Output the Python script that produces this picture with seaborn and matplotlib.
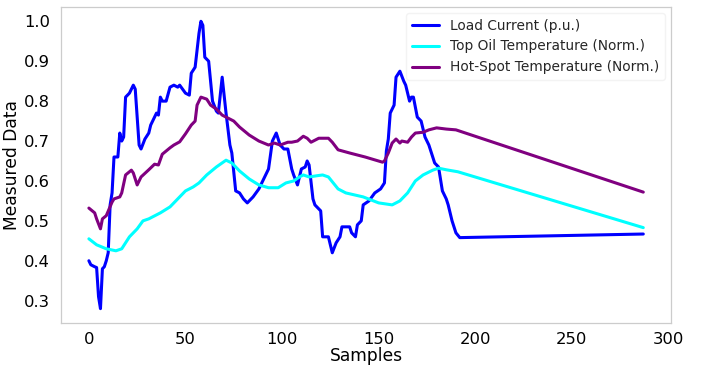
import matplotlib
matplotlib.use("Agg")
import matplotlib.pyplot as plt
import seaborn as sns
import pandas as pd

# ---- data ----
load_x = [0, 1, 3, 4, 5, 6, 7, 8, 9, 10, 11, 12, 13, 15, 16, 17, 18, 19, 21, 23, 24, 26, 27, 29, 31,
          32, 35, 36, 37, 38, 40, 42, 44, 46, 47, 50, 52, 53, 55, 57, 58, 59, 60, 62, 64, 66, 67, 69,
          71, 73, 74, 76, 78, 80, 82, 85, 88, 91, 93, 95, 97, 99, 101, 103, 105, 106, 108, 110, 112,
          113, 114, 116, 117, 120, 121, 124, 125, 126, 128, 130, 131, 135, 136, 138, 139, 141, 142,
          145, 148, 151, 153, 154, 155, 156, 158, 159, 161, 163, 164, 166, 167, 168, 170, 172, 174,
          176, 178, 179, 181, 183, 185, 186, 188, 190, 192, 287]
load_y = [0.40, 0.39, 0.385, 0.383, 0.31, 0.28, 0.38, 0.385, 0.40, 0.42, 0.54, 0.57, 0.66, 0.66,
          0.72, 0.70, 0.71, 0.81, 0.82, 0.84, 0.83, 0.69, 0.68, 0.705, 0.72, 0.74, 0.77, 0.765, 0.81,
          0.80, 0.80, 0.835, 0.84, 0.835, 0.84, 0.82, 0.815, 0.87, 0.885, 0.97, 1.0, 0.99, 0.91, 0.90,
          0.80, 0.775, 0.77, 0.86, 0.77, 0.69, 0.67, 0.575, 0.57, 0.555, 0.545, 0.56, 0.58, 0.61,
          0.63, 0.70, 0.72, 0.69, 0.68, 0.68, 0.63, 0.615, 0.59, 0.63, 0.635, 0.65, 0.64, 0.555,
          0.54, 0.525, 0.46, 0.46, 0.44, 0.42, 0.445, 0.46, 0.485, 0.485, 0.47, 0.46, 0.49, 0.50,
          0.54, 0.55, 0.57, 0.58, 0.595, 0.675, 0.705, 0.77, 0.79, 0.86, 0.875, 0.85, 0.84, 0.80,
          0.81, 0.81, 0.76, 0.75, 0.71, 0.69, 0.66, 0.645, 0.635, 0.575, 0.555, 0.54, 0.50, 0.47,
          0.458, 0.467]

oil_x = [0, 4, 9, 14, 17, 21, 25, 28, 31, 37, 42, 45, 50, 54, 57, 61, 66, 71, 74, 78, 83, 88, 93,
         98, 102, 106, 109, 111, 114, 118, 121, 124, 129, 133, 142, 150, 157, 161, 165, 169, 173,
         178, 181, 185, 191, 287]
oil_y = [0.455, 0.44, 0.43, 0.425, 0.43, 0.46, 0.48, 0.50, 0.505, 0.52, 0.535, 0.55, 0.575, 0.585,
         0.595, 0.615, 0.635, 0.652, 0.645, 0.625, 0.605, 0.59, 0.583, 0.583, 0.595, 0.60, 0.61,
         0.615, 0.61, 0.613, 0.615, 0.61, 0.58, 0.57, 0.56, 0.545, 0.54, 0.55, 0.57, 0.60, 0.615,
         0.627, 0.632, 0.628, 0.623, 0.483]

hot_x = [0, 3, 4, 6, 7, 9, 12, 13, 16, 17, 19, 22, 23, 25, 27, 31, 34, 36, 38, 42, 44, 47, 50, 53,
         55, 56, 58, 61, 63, 66, 69, 73, 75, 78, 83, 88, 93, 96, 99, 103, 105, 108, 111, 113, 115,
         119, 124, 126, 129, 135, 143, 152, 153, 155, 157, 159, 161, 162, 165, 167, 169, 173, 176,
         180, 185, 190, 287]
hot_y = [0.532, 0.52, 0.505, 0.48, 0.505, 0.513, 0.547, 0.555, 0.56, 0.57, 0.615, 0.627, 0.62, 0.59,
         0.61, 0.628, 0.642, 0.64, 0.667, 0.683, 0.69, 0.698, 0.718, 0.74, 0.75, 0.79, 0.81, 0.805,
         0.79, 0.78, 0.765, 0.755, 0.75, 0.735, 0.715, 0.70, 0.69, 0.695, 0.69, 0.697, 0.697, 0.70,
         0.712, 0.707, 0.697, 0.707, 0.707, 0.697, 0.678, 0.67, 0.66, 0.647, 0.65, 0.67, 0.695,
         0.705, 0.695, 0.70, 0.697, 0.71, 0.72, 0.722, 0.728, 0.733, 0.73, 0.728, 0.572]

series_names = ["Load Current (p.u.)", "Top Oil Temperature (Norm.)", "Hot-Spot Temperature (Norm.)"]
series_colors = ["#0000ff", "#00ffff", "#800080"]
x_ticks = [0, 50, 100, 150, 200, 250, 300]
y_ticks = [0.3, 0.4, 0.5, 0.6, 0.7, 0.8, 0.9, 1.0]

df = pd.concat([
    pd.DataFrame({"Samples": load_x, "Value": load_y, "Series": series_names[0]}),
    pd.DataFrame({"Samples": oil_x, "Value": oil_y, "Series": series_names[1]}),
    pd.DataFrame({"Samples": hot_x, "Value": hot_y, "Series": series_names[2]}),
], ignore_index=True)

sns.set_theme(style="whitegrid")
plt.rcParams["font.family"] = ["DejaVu Sans"]

fig, ax = plt.subplots(figsize=(7.03, 3.65), dpi=100)
fig.subplots_adjust(left=0.087, right=0.9545, top=0.981, bottom=0.115)

sns.lineplot(data=df, x="Samples", y="Value", hue="Series", hue_order=series_names,
             palette=dict(zip(series_names, series_colors)), estimator=None,
             linewidth=2.2, ax=ax)

ax.grid(False)
for s in ax.spines.values():
    s.set_color("#cccccc")
    s.set_linewidth(0.9)
ax.set_xticks(x_ticks)
ax.set_yticks(y_ticks)
ax.set_yticklabels([f"{v:.1f}" for v in y_ticks])
ax.tick_params(axis="y", labelsize=11.8, colors="black", pad=2)
ax.tick_params(axis="x", labelsize=11.8, colors="black", pad=0.5)
ax.set_xlabel("Samples", fontsize=12.3, labelpad=0, color="black")
ax.set_ylabel("Measured Data", fontsize=12.3, labelpad=2, color="black")

leg = ax.legend(loc="upper right", fontsize=9.9, frameon=True, handlelength=2.0,
                borderaxespad=0.45)
leg.get_frame().set_edgecolor("#f0f0f0")
for t in leg.get_texts():
    t.set_color("#262626")

fig.savefig("out.png", dpi=100)
